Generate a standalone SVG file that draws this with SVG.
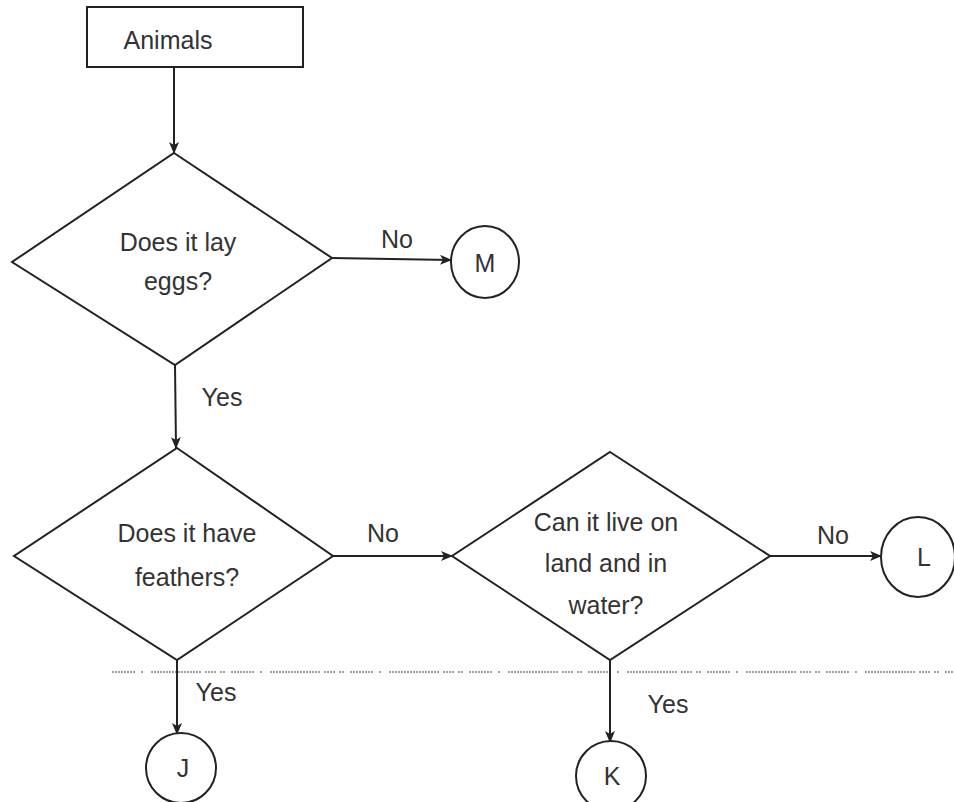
<svg xmlns="http://www.w3.org/2000/svg" width="954" height="802" viewBox="0 0 954 802">
<defs>
<marker id="ah" markerWidth="12" markerHeight="10" refX="11" refY="5" orient="auto" markerUnits="userSpaceOnUse">
<path d="M0,0 L12,5 L0,10 L3,5 Z" fill="#222"/>
</marker>
</defs>
<style>
.s{fill:#fff;stroke:#222;stroke-width:2}
.t{font-family:"Liberation Sans",Arial,sans-serif;font-size:25px;fill:#333;text-anchor:middle}
.c{stroke:#222;stroke-width:2;fill:none;marker-end:url(#ah)}
</style>
<rect width="954" height="802" fill="#fff"/>
<line x1="112" y1="672" x2="954" y2="672" stroke="#444" stroke-width="1.2" stroke-dasharray="2,1,2,1,2,1,2,1,2,1,2,1,2,1,2,6,2,8,2,1,2,1,2,1,2,1,2,1,2,1,2,1,2,1,2,1,2,1,2,1,2,1,2,1,2,1,2,1,2,1,2,4,2,1,2,1,2,1,2,4,2,1,2,6"/>
<g id="connectors">
<line class="c" x1="174" y1="67" x2="174" y2="153"/>
<line class="c" x1="332" y1="258" x2="451" y2="260"/>
<line class="c" x1="175" y1="365" x2="176" y2="448"/>
<line class="c" x1="333" y1="556" x2="452" y2="556"/>
<line class="c" x1="770" y1="556" x2="881" y2="556"/>
<line class="c" x1="177" y1="660" x2="177" y2="734"/>
<line class="c" x1="610" y1="660" x2="610" y2="742"/>
<text class="t" x="397" y="248">No</text>
<text class="t" x="222" y="406">Yes</text>
<text class="t" x="383" y="542">No</text>
<text class="t" x="833" y="544">No</text>
<text class="t" x="216" y="701">Yes</text>
<text class="t" x="668" y="713">Yes</text>
</g>
<g id="animals">
<rect class="s" x="87" y="7" width="216" height="60"/>
<text class="t" x="168" y="49">Animals</text>
</g>
<g id="lay-eggs">
<polygon class="s" points="174,153 332,258 175,365 12,262"/>
<text class="t" x="178" y="251">Does it lay</text>
<text class="t" x="178" y="290">eggs?</text>
</g>
<g id="m">
<ellipse class="s" cx="485" cy="262" rx="34" ry="36"/>
<text class="t" x="485" y="272">M</text>
</g>
<g id="feathers">
<polygon class="s" points="177,448 333,556 177,660 14,556"/>
<text class="t" x="187" y="542">Does it have</text>
<text class="t" x="187" y="586">feathers?</text>
</g>
<g id="land-water">
<polygon class="s" points="610,452 770,556 610,660 452,556"/>
<text class="t" x="606" y="531">Can it live on</text>
<text class="t" x="606" y="572">land and in</text>
<text class="t" x="606" y="614">water?</text>
</g>
<g id="l">
<ellipse class="s" cx="918" cy="557" rx="37" ry="40"/>
<text class="t" x="924" y="566">L</text>
</g>
<g id="j">
<ellipse class="s" cx="181" cy="768" rx="35" ry="35"/>
<text class="t" x="183" y="777">J</text>
</g>
<g id="k">
<ellipse class="s" cx="611" cy="776" rx="35" ry="35"/>
<text class="t" x="612" y="785">K</text>
</g>
</svg>
